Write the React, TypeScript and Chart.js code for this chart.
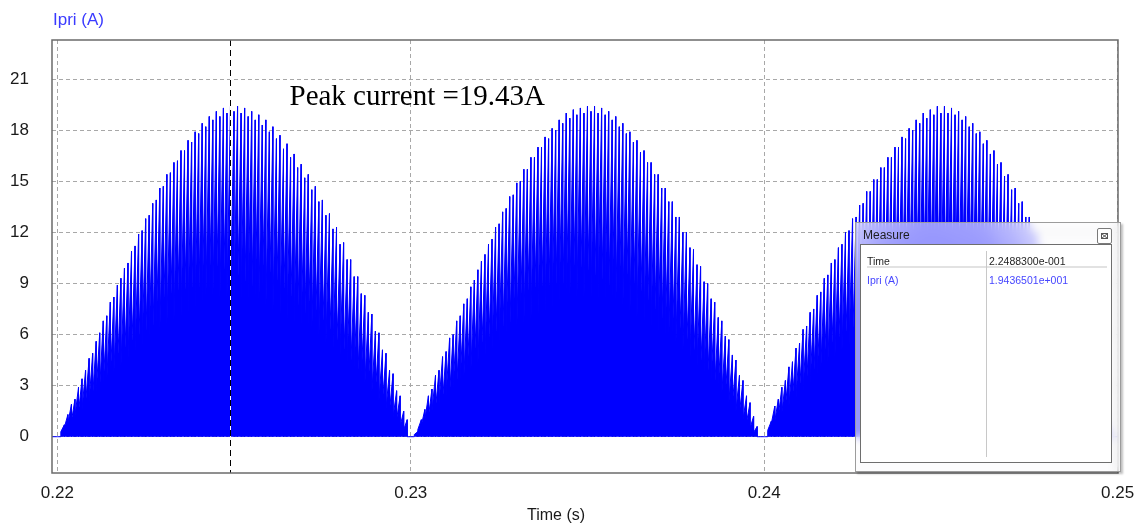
import React, { useEffect, useRef } from "react";
import { Chart, registerables } from "chart.js";

Chart.register(...registerables);

// Axis ranges and ticks
const X_MIN = 0.21985;
const X_MAX = 0.25001;
const Y_MIN = -2.13;
const Y_MAX = 23.29;
const X_TICKS = [0.22, 0.23, 0.24, 0.25];
const Y_TICKS = [0, 3, 6, 9, 12, 15, 18, 21];

// Primary current: one peak value per switching cycle, one list per rectified half-cycle
const TRACE_START = 0.2195;
const TRACE_END = 0.2505;
const HALF_CYCLE_STARTS = [0.22, 0.23, 0.24];
const SWITCHING_PERIOD = 0.0001;
// share of the cycle peak at which the on-time ramp begins
const VALLEY_FRACTION = 0.42;

const HALF_CYCLE_1_PEAKS = [
  0, 0.7, 1.3, 1.9, 2.2, 2.9, 3.4, 3.9, 4.6, 4.9,
  5.6, 6.1, 6.8, 7.1, 7.9, 8.2, 8.9, 9.3, 9.9, 10.2,
  10.9, 11.2, 11.9, 12.1, 12.8, 13.0, 13.7, 13.9, 14.6, 14.7,
  15.4, 15.5, 16.1, 16.2, 16.8, 16.8, 17.4, 17.3, 17.9, 17.8,
  18.4, 18.2, 18.8, 18.6, 19.1, 18.8, 19.3, 19.0, 19.43, 19.1,
  19.4, 19.0, 19.3, 18.8, 19.1, 18.6, 18.9, 18.3, 18.6, 17.9,
  18.2, 17.5, 17.7, 16.9, 17.2, 16.4, 16.6, 15.8, 16.0, 15.2,
  15.4, 14.5, 14.7, 13.8, 13.9, 13.0, 13.1, 12.2, 12.3, 11.3,
  11.4, 10.4, 10.4, 9.4, 9.4, 8.4, 8.3, 7.3, 7.2, 6.2,
  6.1, 5.1, 4.9, 3.9, 3.7, 2.7, 2.4, 1.5, 1.0, 0,
];

const HALF_CYCLE_2_PEAKS = [
  0, 0.3, 1.0, 1.6, 2.4, 2.8, 3.6, 3.9, 4.7, 5.0,
  5.8, 6.0, 6.8, 7.1, 7.8, 8.1, 8.8, 9.2, 9.8, 10.3,
  10.7, 11.3, 11.6, 12.3, 12.5, 13.2, 13.4, 14.1, 14.2, 14.9,
  15.0, 15.7, 15.7, 16.4, 16.4, 17.0, 17.0, 17.6, 17.5, 18.1,
  18.0, 18.6, 18.4, 19.0, 18.7, 19.2, 18.9, 19.3, 19.0, 19.4,
  19.1, 19.4, 19.0, 19.3, 18.9, 19.1, 18.6, 18.8, 18.2, 18.4,
  17.8, 17.9, 17.3, 17.4, 16.7, 16.8, 16.1, 16.1, 15.4, 15.4,
  14.6, 14.6, 13.8, 13.8, 12.9, 12.9, 12.0, 12.0, 11.1, 11.0,
  10.1, 10.0, 9.1, 9.0, 8.1, 7.9, 7.0, 6.8, 5.9, 5.7,
  4.8, 4.5, 3.6, 3.3, 2.4, 2.0, 1.2, 0.6, 0, 0,
];

const HALF_CYCLE_3_PEAKS = [
  0, 0.9, 1.8, 2.2, 2.9, 3.3, 4.1, 4.4, 5.2, 5.5,
  6.3, 6.5, 7.3, 7.5, 8.3, 8.5, 9.3, 9.5, 10.2, 10.4,
  11.1, 11.3, 12.0, 12.1, 12.8, 12.9, 13.6, 13.7, 14.4, 14.4,
  15.1, 15.1, 15.8, 15.8, 16.4, 16.4, 17.0, 17.0, 17.6, 17.5,
  18.1, 18.0, 18.6, 18.4, 19.0, 18.7, 19.2, 18.9, 19.4, 19.0,
  19.4, 19.0, 19.3, 18.9, 19.1, 18.6, 18.8, 18.2, 18.4, 17.8,
  17.9, 17.2, 17.4, 16.6, 16.8, 16.0, 16.1, 15.3, 15.4, 14.5,
  14.6, 13.7, 13.8, 12.9, 12.9, 12.0, 12.0, 11.1, 11.0, 10.1,
  10.0, 9.1, 9.0, 8.0, 7.9, 6.9, 6.8, 5.8, 5.6, 4.7,
  4.5, 3.5, 3.3, 2.3, 2.0, 1.2, 0.6, 0, 0, 0,
];

// Measurement cursor
const CURSOR_TIME = 0.224883;
const CURSOR_VALUE = 19.436501;
const TRACE_NAME = "Ipri (A)";
const AXIS_X_TITLE = "Time (s)";
const PEAK_LABEL = "Peak current =19.43A";

const SANS = '"Liberation Sans", Arial, sans-serif';
const SERIF = '"Liberation Serif", "Times New Roman", serif';

function buildTrace() {
  const pts: { x: number; y: number }[] = [{ x: TRACE_START, y: 0 }];
  const halves = [HALF_CYCLE_1_PEAKS, HALF_CYCLE_2_PEAKS, HALF_CYCLE_3_PEAKS];
  halves.forEach((peaks, h) => {
    const t0 = HALF_CYCLE_STARTS[h];
    peaks.forEach((p, k) => {
      const a = t0 + k * SWITCHING_PERIOD;
      const b = a + SWITCHING_PERIOD;
      if (p <= 0) {
        pts.push({ x: a, y: 0 }, { x: b, y: 0 });
        return;
      }
      pts.push(
        { x: a, y: 0 },
        { x: a, y: p * VALLEY_FRACTION },
        { x: b, y: p },
        { x: b, y: 0 }
      );
    });
  });
  pts.push({ x: TRACE_END, y: 0 });
  return pts;
}

function psimExp(v: number) {
  const [m, e] = v.toExponential(7).split("e");
  const sign = e.startsWith("-") ? "-" : "+";
  const digits = e.replace(/[+-]/, "").padStart(3, "0");
  return `${m}e${sign}${digits}`;
}

const overlayPlugin = {
  id: "scopeOverlay",
  afterDatasetsDraw(chart: any) {
    const { ctx, chartArea, scales } = chart;
    const cx = Math.round(scales.x.getPixelForValue(CURSOR_TIME)) + 0.5;
    ctx.save();
    // cursor line
    ctx.lineWidth = 1;
    ctx.beginPath();
    ctx.moveTo(cx, chartArea.top);
    ctx.lineTo(cx, chartArea.bottom);
    ctx.strokeStyle = "#ffffff";
    ctx.stroke();
    ctx.setLineDash([6, 4]);
    ctx.strokeStyle = "#000000";
    ctx.stroke();
    ctx.setLineDash([]);

    // plot frame
    ctx.strokeStyle = "#6b6b6b";
    ctx.lineWidth = 1.5;
    ctx.strokeRect(
      chartArea.left,
      chartArea.top,
      chartArea.right - chartArea.left,
      chartArea.bottom - chartArea.top
    );

    // peak annotation next to the cursor
    const py = scales.y.getPixelForValue(CURSOR_VALUE);
    ctx.font = `29px ${SERIF}`;
    ctx.fillStyle = "#000";
    ctx.textAlign = "left";
    ctx.textBaseline = "alphabetic";
    ctx.fillText(PEAK_LABEL, cx + 59, py - 1);

    // trace name above the plot
    ctx.font = `17px ${SANS}`;
    ctx.fillStyle = "#3a3aff";
    ctx.textBaseline = "middle";
    ctx.fillText(TRACE_NAME, chartArea.left + 1, 20);

    // x axis title
    ctx.font = `16px ${SANS}`;
    ctx.fillStyle = "#1a1a1a";
    ctx.textAlign = "center";
    ctx.fillText(AXIS_X_TITLE, 556, 516);
    ctx.restore();
  },
};

function MeasureWindow() {
  const cell: React.CSSProperties = {
    position: "absolute",
    font: `10.5px ${SANS}`,
    lineHeight: "12px",
    whiteSpace: "nowrap",
  };
  return (
    <div
      style={{
        position: "absolute",
        left: 855,
        top: 222,
        width: 264,
        height: 248,
        border: "1px solid #9c9c9c",
        background: "rgba(250,250,252,0.6)",
        backdropFilter: "blur(4px)",
        WebkitBackdropFilter: "blur(4px)",
        boxShadow: "2px 2px 2px rgba(0,0,0,0.25)",
        boxSizing: "content-box",
      }}
    >
      <div
        style={{
          position: "absolute",
          left: 7,
          top: 5,
          font: `12px ${SANS}`,
          lineHeight: "14px",
          color: "#1e1e1e",
        }}
      >
        Measure
      </div>
      <div
        style={{
          position: "absolute",
          left: 241,
          top: 5,
          width: 13,
          height: 14,
          border: "1px solid #7a7a7a",
          borderRadius: 2,
          background: "rgba(255,255,255,0.7)",
        }}
      >
        <svg width="13" height="14" style={{ display: "block" }}>
          <rect x="3.5" y="4.5" width="6" height="5" fill="none" stroke="#555" strokeWidth="1" />
          <path d="M3.5 4.5 L9.5 9.5 M9.5 4.5 L3.5 9.5" stroke="#555" strokeWidth="1" />
        </svg>
      </div>
      <div
        style={{
          position: "absolute",
          left: 4,
          top: 21,
          width: 250,
          height: 217,
          border: "1px solid #6e6e6e",
          background: "#ffffff",
        }}
      >
        <div style={{ ...cell, left: 6, top: 10, color: "#1e1e1e" }}>Time</div>
        <div style={{ ...cell, left: 128, top: 10, color: "#1e1e1e" }}>{psimExp(CURSOR_TIME)}</div>
        <div
          style={{
            position: "absolute",
            left: 6,
            top: 21,
            width: 240,
            height: 2,
            background: "#e2e2e2",
          }}
        />
        <div style={{ ...cell, left: 6, top: 29, color: "#4646ff" }}>{TRACE_NAME}</div>
        <div style={{ ...cell, left: 128, top: 29, color: "#4646ff" }}>{psimExp(CURSOR_VALUE)}</div>
        <div
          style={{
            position: "absolute",
            left: 125,
            top: 6,
            width: 1,
            height: 206,
            background: "#c8c8c8",
          }}
        />
      </div>
    </div>
  );
}

export default function App() {
  const canvasRef = useRef<HTMLCanvasElement | null>(null);

  useEffect(() => {
    if (!canvasRef.current) return;
    const tickFont = { family: SANS, size: 17 };
    const chart = new Chart(canvasRef.current, {
      type: "line",
      data: {
        datasets: [
          {
            label: TRACE_NAME,
            data: buildTrace(),
            borderColor: "#0000ff",
            backgroundColor: "#0000ff",
            borderWidth: 1,
            pointRadius: 0,
            fill: "origin",
            tension: 0,
          },
        ],
      },
      options: {
        responsive: false,
        animation: false,
        devicePixelRatio: 1,
        events: [],
        layout: { padding: { top: 40, right: 23, left: 0, bottom: 0 } },
        plugins: { legend: { display: false }, tooltip: { enabled: false } },
        scales: {
          x: {
            type: "linear",
            min: X_MIN,
            max: X_MAX,
            afterBuildTicks: (s: any) => {
              s.ticks = X_TICKS.map((value) => ({ value }));
            },
            afterFit: (s: any) => {
              s.height = 58;
              s.paddingLeft = 0;
              s.paddingRight = 0;
            },
            ticks: {
              callback: (v: any) => Number(v).toFixed(2),
              padding: 10,
              font: tickFont,
              color: "#1a1a1a",
              maxRotation: 0,
              autoSkip: false,
            },
            grid: { color: "#a8a8a8", drawTicks: false, lineWidth: 1 },
            border: { display: false, dash: [4, 3] },
          },
          y: {
            type: "linear",
            min: Y_MIN,
            max: Y_MAX,
            afterBuildTicks: (s: any) => {
              s.ticks = Y_TICKS.map((value) => ({ value }));
            },
            afterFit: (s: any) => {
              s.width = 52;
              s.paddingTop = 0;
              s.paddingBottom = 0;
            },
            ticks: {
              callback: (v: any) => String(v),
              padding: 23,
              font: tickFont,
              color: "#1a1a1a",
              autoSkip: false,
            },
            grid: { color: "#a8a8a8", drawTicks: false, lineWidth: 1 },
            border: { display: false, dash: [4, 3] },
          },
        },
      },
      plugins: [overlayPlugin],
    } as any);
    return () => chart.destroy();
  }, []);

  return (
    <div
      style={{
        position: "fixed",
        left: 0,
        top: 0,
        width: 1141,
        height: 531,
        background: "#ffffff",
        overflow: "hidden",
      }}
    >
      <canvas ref={canvasRef} width={1141} height={531} style={{ display: "block" }} />
      <MeasureWindow />
    </div>
  );
}
